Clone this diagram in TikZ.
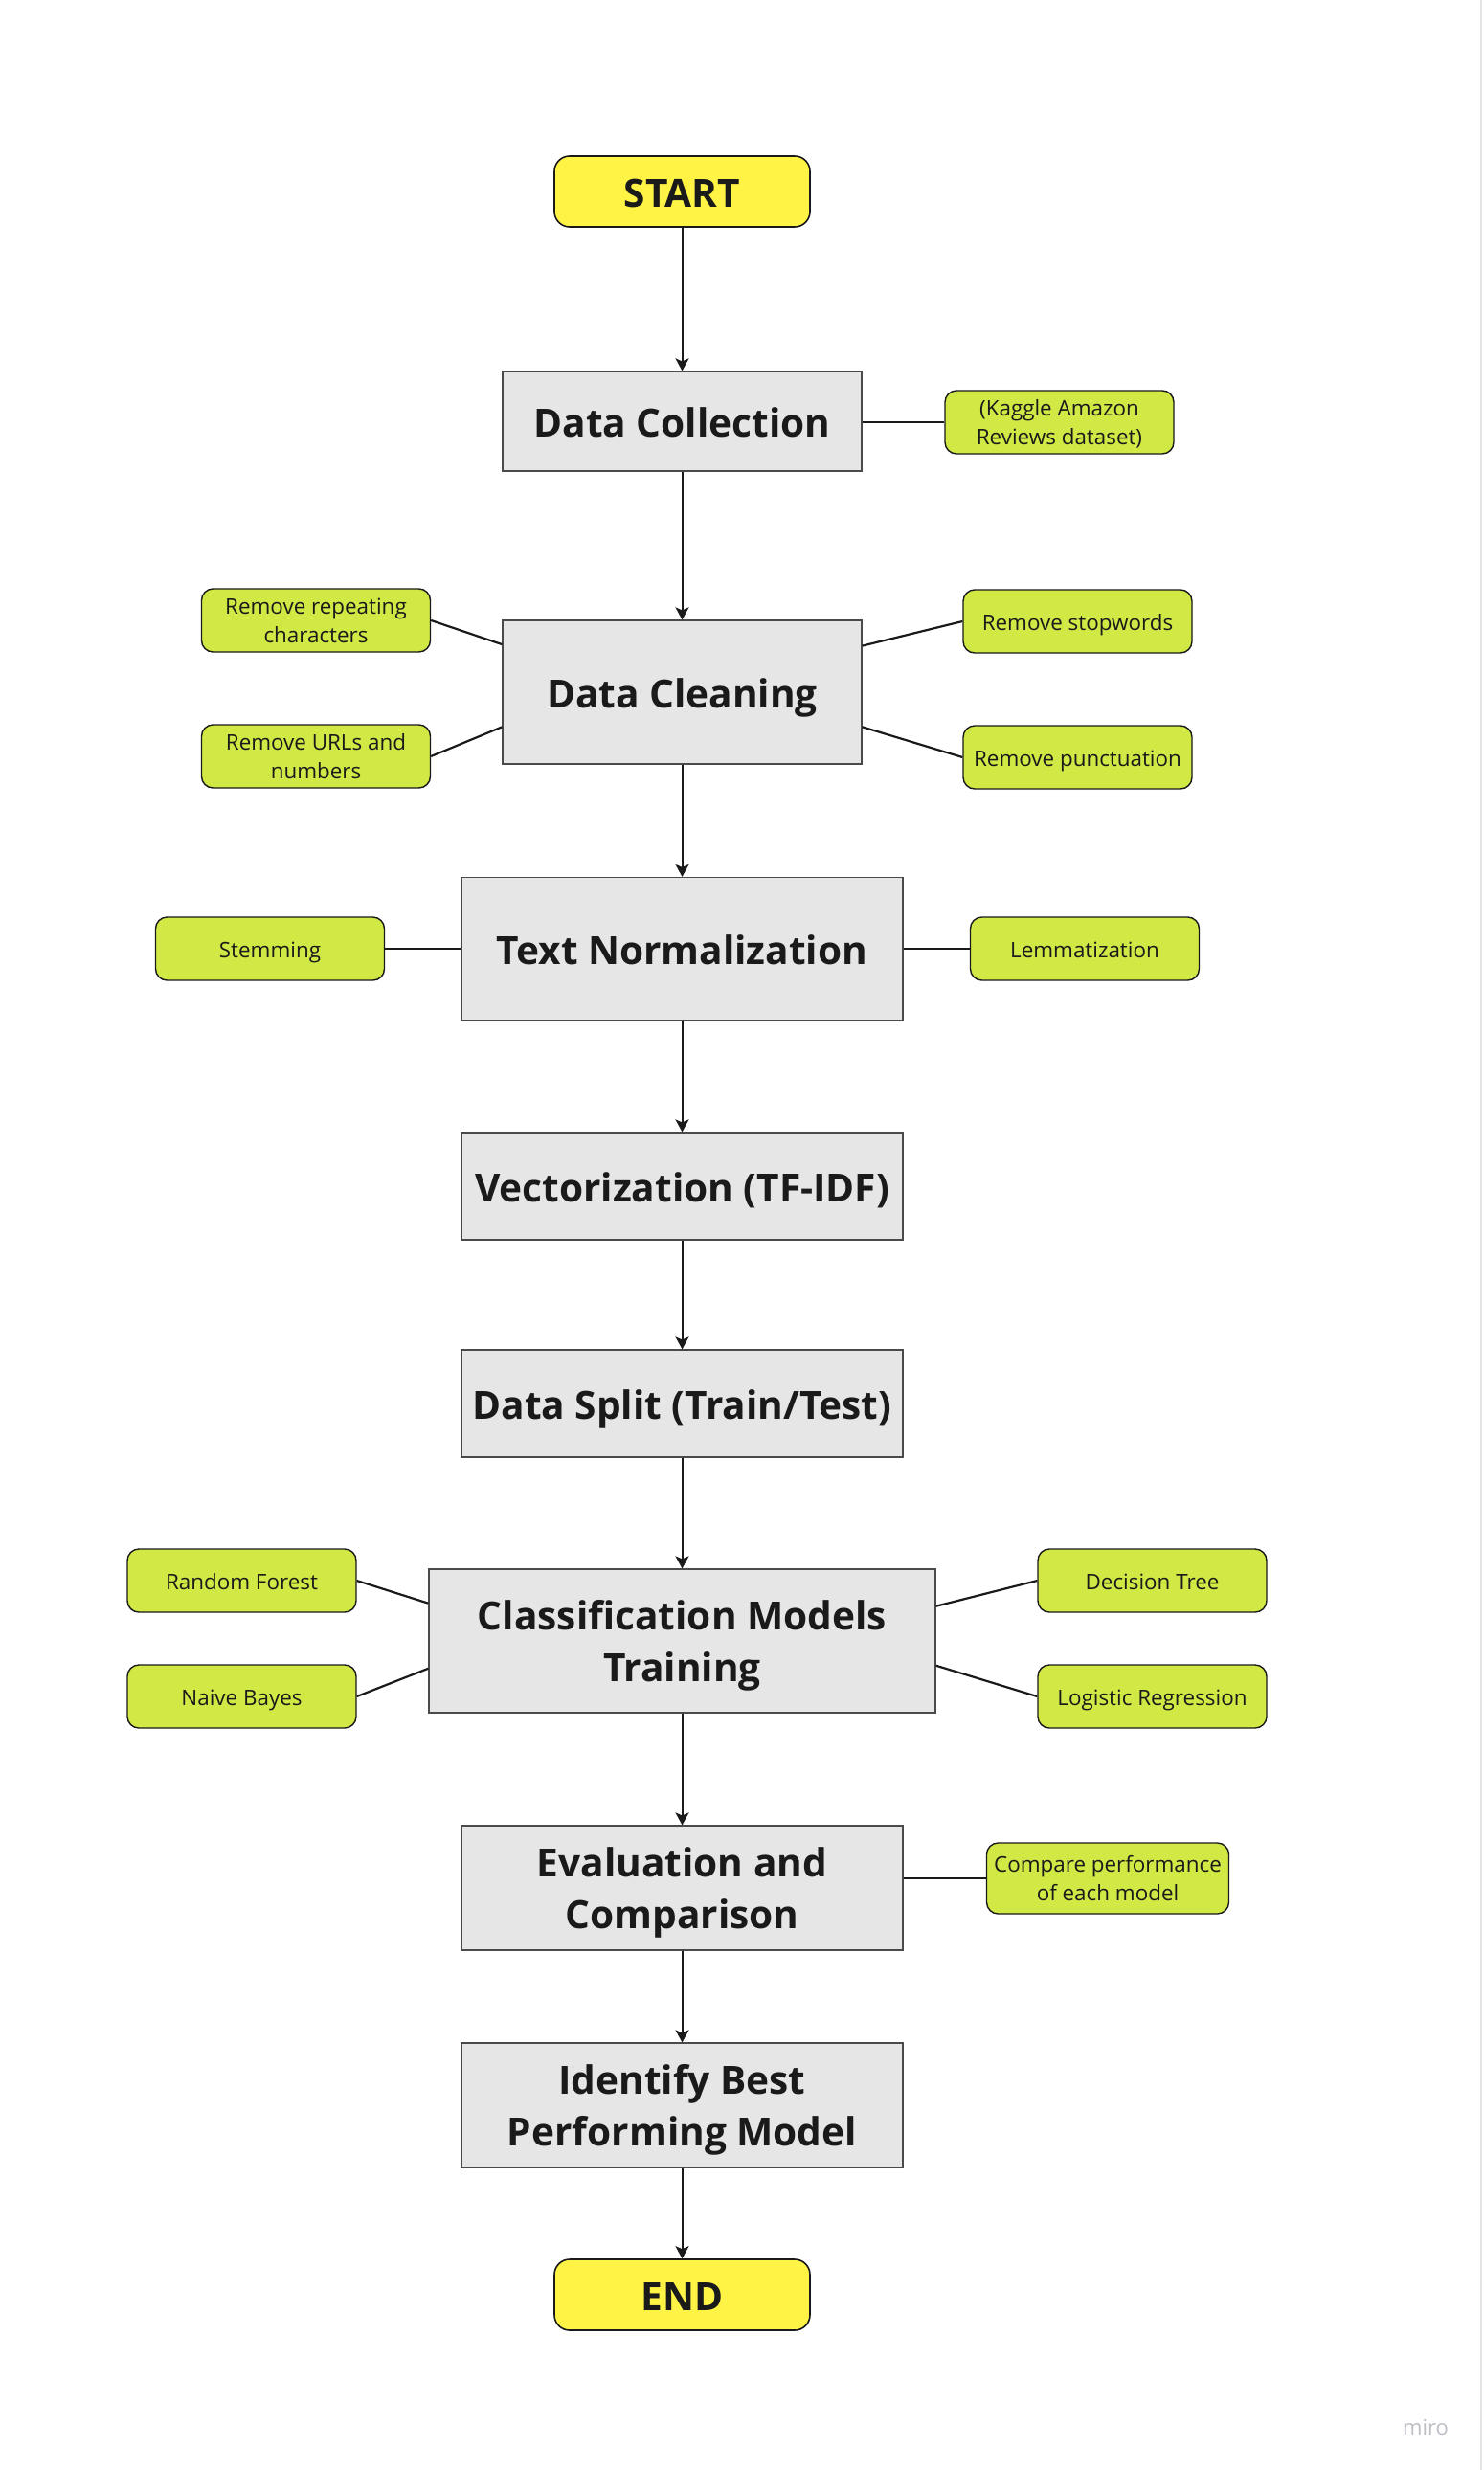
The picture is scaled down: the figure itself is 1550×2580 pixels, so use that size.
\documentclass[tikz,border=0pt]{standalone}
\usepackage{fontspec}
\setmainfont{Open Sans}
\usetikzlibrary{arrows.meta,calc}
\definecolor{boxgray}{HTML}{E6E6E6}
\definecolor{boxline}{HTML}{4A4A4A}
\definecolor{lime}{HTML}{D1E845}
\definecolor{termyellow}{HTML}{FFF445}
\definecolor{ink}{HTML}{1A1A1A}
\definecolor{mirogray}{HTML}{BDBDC5}
\begin{document}
\begin{tikzpicture}[x=0.5pt,y=-0.5pt,
  proc/.style={draw=boxline, fill=boxgray, line width=0.6pt, font=\fontsize{20.3}{27}\selectfont\bfseries, text=ink, align=center, inner sep=0pt, text depth=0pt},
  oneline/.style={text height=18pt, text depth=1.6pt},
  note/.style={draw=ink, fill=lime, rounded corners=6pt, line width=0.7pt, minimum width=119.5pt, minimum height=33pt, font=\fontsize{11.2}{15}\selectfont, text=ink, align=center, inner sep=0pt, text depth=0pt},
  onenote/.style={text height=10pt, text depth=1pt},
  term/.style={draw=ink, fill=termyellow, rounded corners=8pt, line width=0.8pt, minimum width=133.5pt, minimum height=37pt, font=\fontsize{20.3}{24}\selectfont\bfseries, text=ink, inner sep=0pt, text height=18pt, text depth=1.6pt},
  flow/.style={draw=ink, line width=1pt, -{Stealth[length=6.5pt,width=7pt,inset=1.5pt]}},
  link/.style={draw=ink, line width=1.1pt}]
\useasboundingbox (0,0) rectangle (1550,2580);
\fill[white] (0,0) rectangle (1550,2580);
\draw[draw=black!10, line width=1pt] (1547,0) -- (1547,2580);

\node[term] (start) at (712.5,200) {START};
\node[proc, oneline, minimum width=187.5pt, minimum height=52pt] (dc) at (712.5,440) {Data Collection};
\node[note] (kag) at (1106.5,441) {(Kaggle Amazon\\Reviews dataset)};
\node[proc, oneline, minimum width=187.5pt, minimum height=75pt] (clean) at (712.5,723) {Data Cleaning};
\node[note] (rep) at (330,648) {Remove repeating\\characters};
\node[note] (url) at (330,790) {Remove URLs and\\numbers};
\node[note, onenote] (stop) at (1125.5,649) {Remove stopwords};
\node[note, onenote] (punc) at (1125.5,791) {Remove punctuation};
\node[proc, oneline, minimum width=230.5pt, minimum height=74.5pt] (norm) at (712.5,991) {Text Normalization};
\node[note, onenote] (stem) at (282,991) {Stemming};
\node[note, onenote] (lem) at (1133,991) {Lemmatization};
\node[proc, oneline, minimum width=230.5pt, minimum height=56pt] (vec) at (712.5,1239) {Vectorization (TF-IDF)};
\node[proc, oneline, minimum width=230.5pt, minimum height=56pt] (split) at (712.5,1466) {Data Split (Train/Test)};
\node[proc, minimum width=264.5pt, minimum height=75pt] (cls) at (712.5,1714) {Classification Models\\Training};
\node[note, onenote] (rf) at (252.5,1651) {Random Forest};
\node[note, onenote] (nb) at (252.5,1772) {Naive Bayes};
\node[note, onenote] (dt) at (1203.5,1651) {Decision Tree};
\node[note, onenote] (lr) at (1203.5,1772) {Logistic Regression};
\node[proc, minimum width=230.5pt, minimum height=65pt] (eval) at (712.5,1972) {Evaluation and\\Comparison};
\node[note, minimum width=126.5pt, minimum height=37pt] (cmp) at (1157,1962) {Compare performance\\of each model};
\node[proc, minimum width=230.5pt, minimum height=65pt] (best) at (712.5,2199) {Identify Best\\Performing Model};
\node[term] (end) at (712.5,2397) {END};
\node[text=mirogray, font=\fontsize{11}{13}\selectfont, inner sep=0pt] (miro) at (1489,2536) {miro};

\draw[flow] (start) -- (dc);
\draw[flow] (dc) -- (clean);
\draw[flow] (clean) -- (norm);
\draw[flow] (norm) -- (vec);
\draw[flow] (vec) -- (split);
\draw[flow] (split) -- (cls);
\draw[flow] (cls) -- (eval);
\draw[flow] (eval) -- (best);
\draw[flow] (best) -- (end);

\draw[link] (kag.west) -- (kag.west -| dc.east);
\draw[link] (rep.east) -- ($(clean.north west)!0.17!(clean.south west)$);
\draw[link] (url.east) -- ($(clean.north west)!0.74!(clean.south west)$);
\draw[link] (stop.west) -- ($(clean.north east)!0.18!(clean.south east)$);
\draw[link] (punc.west) -- ($(clean.north east)!0.74!(clean.south east)$);
\draw[link] (stem) -- (norm);
\draw[link] (lem) -- (norm);
\draw[link] (rf.east) -- ($(cls.north west)!0.24!(cls.south west)$);
\draw[link] (nb.east) -- ($(cls.north west)!0.69!(cls.south west)$);
\draw[link] (dt.west) -- ($(cls.north east)!0.26!(cls.south east)$);
\draw[link] (lr.west) -- ($(cls.north east)!0.67!(cls.south east)$);
\draw[link] (cmp.west) -- (cmp.west -| eval.east);
\end{tikzpicture}
\end{document}
